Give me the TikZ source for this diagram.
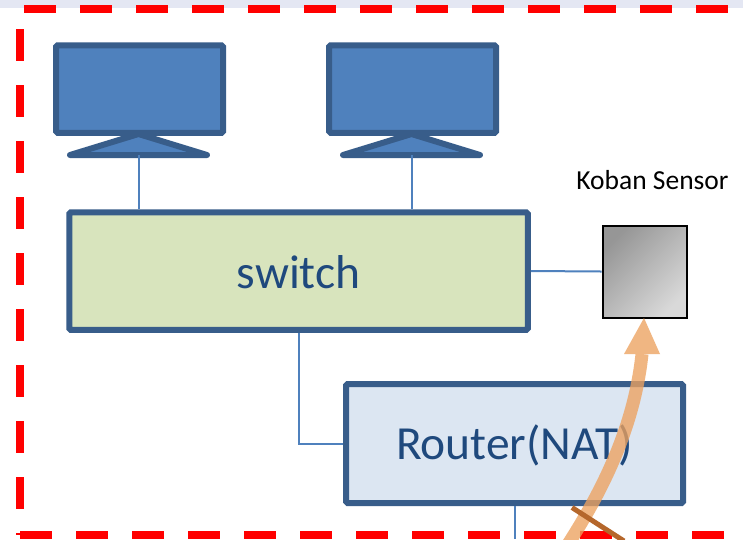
\documentclass[tikz,border=0pt]{standalone}
\usepackage{fontspec}
\setmainfont{Carlito}
\usetikzlibrary{shadows,calc}
\definecolor{edgeblue}{HTML}{385D8A}
\definecolor{fillblue}{HTML}{4F81BD}
\definecolor{fillgreen}{HTML}{D8E4BD}
\definecolor{filllight}{HTML}{DCE6F2}
\definecolor{labelblue}{HTML}{1F497D}
\definecolor{peach}{HTML}{EDA25F}
\definecolor{brownbar}{HTML}{B5672B}
\definecolor{band}{HTML}{E4E7F3}
\tikzset{
  monitorbox/.style={draw=edgeblue,fill=fillblue,line width=6pt,rounded corners=1.5pt,inner sep=0pt,minimum width=167pt,minimum height=87.5pt},
  standshape/.style={draw=edgeblue,fill=fillblue,line width=6pt,line join=round,line cap=round},
  unitbox/.style={draw=edgeblue,line width=6pt,rounded corners=1.5pt,inner sep=0pt,text=labelblue,text depth=0pt,font=\fontsize{47.5}{47.5}\selectfont},
  sensorbox/.style={draw=black,line width=2pt,inner sep=0pt,minimum width=84pt,minimum height=92pt,top color=black!41,bottom color=black!15,shading angle=45,drop shadow={opacity=.35,shadow xshift=1.5pt,shadow yshift=-1.5pt}},
  linkline/.style={draw=fillblue,line width=2pt},
  borderdash/.style={draw=red,line width=8pt,dash pattern=on 32pt off 24pt},
}
\begin{document}
\begin{tikzpicture}[x=1pt,y=-1pt]
\useasboundingbox (0,0) rectangle (743,539);
\clip (0,0) rectangle (743,539);
\fill[white] (0,0) rectangle (743,539);
\fill[band] (0,0) rectangle (743,8);
% border
\coordinate (bTL) at (24,9);
\coordinate (bTR) at (743,9);
\coordinate (bLT) at (20,29);
\coordinate (bLB) at (20,535);
\coordinate (bBL) at (20,535);
\coordinate (bBR) at (743,535);
\draw[borderdash] (bTL) -- (bTR);
\draw[borderdash] (bLT) -- (bLB);
\draw[borderdash] (bBL) -- (bBR);
% monitors
\node[monitorbox] (mon1) at (139.5,89) {};
\node[monitorbox] (mon2) at (412.5,89) {};
\coordinate (base1) at (138.5,155);
\coordinate (base2) at (411.5,155);
\draw[standshape] (138.5,134) -- (70,155) -- (207,155) -- cycle;
\draw[standshape] (411.5,134) -- (343,155) -- (480,155) -- cycle;
% units
\node[unitbox,fill=fillgreen,minimum width=458.5pt,minimum height=117.5pt,text height=34pt] (switch) at (298.5,271) {switch};
\node[unitbox,fill=filllight,minimum width=337pt,minimum height=119pt,text height=31pt] (router) at (514.5,443.5) {Router(NAT)};
\node[sensorbox] (sensor) at (644.5,271.5) {};
\node[font=\fontsize{27.5}{27.5}\selectfont,text=black,inner sep=0pt] (sensorlabel) at (652.5,180) {Koban Sensor};
% links
\draw[linkline] (base1) -- (base1 |- switch.north);
\draw[linkline] (base2) -- (base2 |- switch.north);
\draw[linkline] (switch.east) -- (sensor.west);
\draw[linkline] (switch.south) |- (router.west);
\coordinate (routerdown) at (514.5,539);
\draw[linkline] (router.south) -- (routerdown);
% arrow
\coordinate (arrowstart) at (565,549);
\coordinate (arrowneck) at (642,354);
\coordinate (arrowtip) at (644,318);
\begin{scope}[transparency group,opacity=.78]
\draw[peach,line width=13pt] (arrowstart) .. controls (600,495) and (634,430) .. (arrowneck);
\fill[peach] (arrowtip) -- (660,354) -- (624,354) -- cycle;
\end{scope}
\draw[brownbar,line width=5pt] (572,507.5) -- (624,541);
\end{tikzpicture}
\end{document}
